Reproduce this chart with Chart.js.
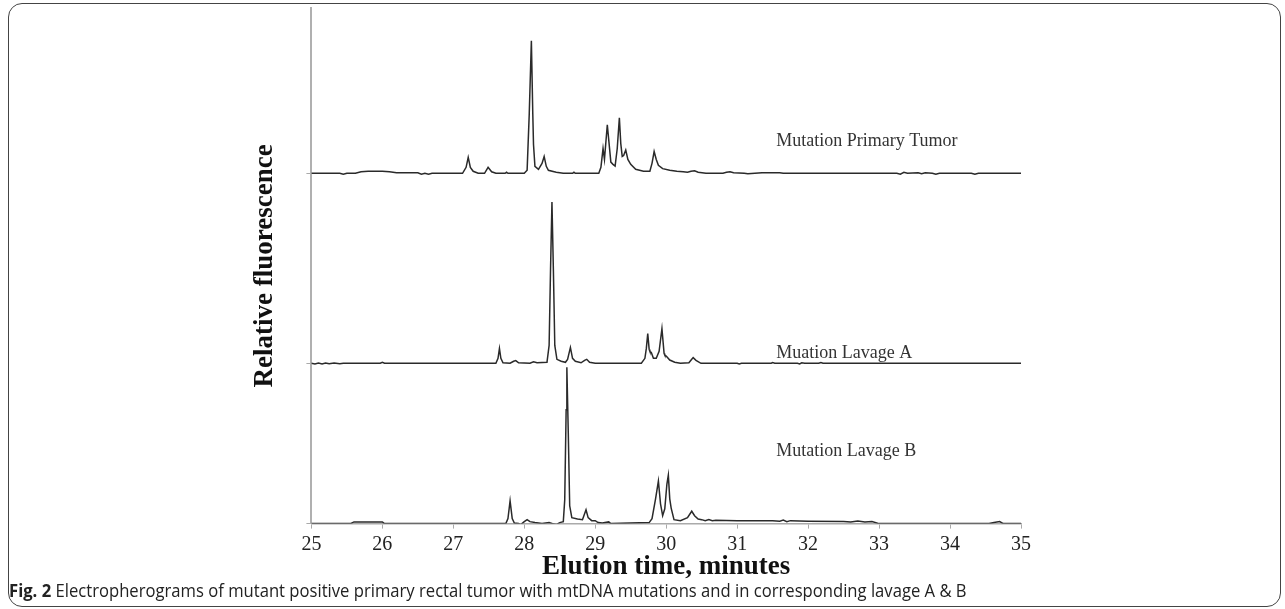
<!DOCTYPE html>
<html lang="en">
<head>
<meta charset="UTF-8">
<title>Electropherograms</title>
<script src="https://cdn.jsdelivr.net/npm/chart.js"></script>
<style>
  html, body { margin: 0; padding: 0; background: #fff; }
  #wrap { position: relative; width: 1285px; height: 609px; overflow: hidden; }
  #frame {
    position: absolute; left: 8px; top: 3px; width: 1271px; height: 602px;
    border: 1.5px solid #444; border-radius: 14px;
  }
  #chart { position: absolute; left: 0; top: 0; }
  #caption {
    position: absolute; left: 9px; top: 578px; white-space: nowrap;
    font-family: "Open Sans", sans-serif; font-size: 18px; color: #222;
    transform: scaleX(0.924); transform-origin: left center;
  }
  #caption b { font-weight: bold; }
</style>
</head>
<body>
<div id="wrap">
  <div id="frame"></div>
  <canvas id="chart" width="1285" height="609"></canvas>
  <div id="caption"><b>Fig. 2</b> Electropherograms of mutant positive primary rectal tumor with mtDNA mutations and in corresponding lavage A &amp; B</div>
</div>
<script>
// elution time (minutes) and peak height above each trace's baseline
const tumorTimes = [25.00, 25.40, 25.45, 25.50, 25.62, 25.70, 25.80, 26.00, 26.10, 26.20, 26.50, 26.55, 26.60, 26.65, 26.70,
  27.13, 27.18, 27.21, 27.24, 27.28, 27.35, 27.44, 27.49, 27.54, 27.60, 27.73, 27.75, 27.77, 28.00, 28.04, 28.07, 28.10,
  28.12, 28.13, 28.15, 28.20, 28.25, 28.28, 28.31, 28.34, 28.45, 28.55, 28.68, 28.70, 28.72, 29.05, 29.08, 29.11, 29.13,
  29.17, 29.22, 29.25, 29.28, 29.31, 29.34, 29.36, 29.38, 29.40, 29.43, 29.46, 29.50, 29.57, 29.68, 29.77, 29.80, 29.83,
  29.86, 29.89, 29.95, 30.05, 30.15, 30.24, 30.30, 30.35, 30.40, 30.45, 30.56, 30.80, 30.85, 30.90, 30.95, 31.10, 31.15,
  31.25, 31.35, 31.60, 31.65, 33.25, 33.30, 33.35, 33.40, 33.55, 33.60, 33.65, 33.75, 33.80, 33.85, 34.30, 34.35, 34.40, 35.00];
const tumorHeights = [0, 0, -1, 0, 0, 1.5, 2, 2, 1.5, 0.5, 0.5, -1, 0, -1, 0,
  0, 6, 16, 6, 2, 0, 0, 6, 1.5, 0, 0, 1, 0, 0, 3, 60, 134,
  60, 29, 7, 4, 10, 17, 7, 3, 1, 0, 0, 1, 0, 0, 6, 25, 14,
  49, 11.3, 9, 7.3, 25, 56, 30, 17, 18, 23.5, 14, 9, 4, 2, 2, 10, 22,
  14, 8, 4.7, 3, 2, 1.5, 1, 2, 2.5, 1, 0, 0, 1, 1.5, 0.5, 0, -0.5,
  0, 0.5, 0.5, 0, 0, -1, 1, 0, 0.5, -0.5, 0.5, 0, -1, 0, 0, -1, 0, 0];

const lavageATimes = [25.00, 25.05, 25.10, 25.15, 25.20, 25.25, 25.32, 25.40, 25.45, 25.97, 26.00, 26.03,
  27.60, 27.63, 27.65, 27.67, 27.70, 27.80, 27.85, 27.88, 27.92, 28.08, 28.13, 28.18, 28.32, 28.35, 28.37, 28.39,
  28.41, 28.43, 28.46, 28.52, 28.58, 28.61, 28.65, 28.68, 28.72, 28.80, 28.85, 28.88, 28.92, 29.00, 29.65, 29.70,
  29.72, 29.74, 29.76, 29.77, 29.79, 29.82, 29.86, 29.90, 29.94, 29.97, 29.98, 30.00, 30.05, 30.12, 30.20, 30.32,
  30.36, 30.38, 30.42, 30.49, 31.00, 31.03, 31.06, 31.48, 31.50, 31.53, 31.85, 31.88, 31.91, 31.95, 32.15, 32.18,
  32.21, 35.00];
const lavageAHeights = [0, -0.7, 0.3, -0.7, 0.3, -0.5, 0.3, -0.5, 0, 0, 1, 0,
  0, 5, 15, 5, 0.5, 0, 2, 2.7, 0.5, 0, 1.5, 0.5, 1, 18, 95, 163,
  95, 18, 4, 2, 1, 4, 16, 5, 2, 0.5, 3, 4, 1, 0, 0, 5,
  15, 30, 14, 12, 11, 5, 5, 12, 35, 10, 8.3, 7.3, 3.3, 1, 0, 0.5,
  4, 5.7, 3, 0, 0, -0.7, 0, 0, 0.7, 0, 0, -0.7, 0.5, 0, 0, 0.8,
  0, 0];

const lavageBTimes = [25.00, 25.55, 25.60, 26.00, 26.03, 27.74, 27.77, 27.80, 27.83, 27.86, 27.92, 27.95, 28.00,
  28.04, 28.08, 28.15, 28.25, 28.35, 28.40, 28.45, 28.50, 28.55, 28.57, 28.59, 28.60, 28.62, 28.64, 28.67, 28.75,
  28.82, 28.85, 28.87, 28.90, 28.95, 29.00, 29.04, 29.10, 29.19, 29.22, 29.76, 29.80, 29.85, 29.89, 29.92, 29.95,
  29.98, 30.01, 30.03, 30.05, 30.07, 30.11, 30.20, 30.30, 30.36, 30.40, 30.45, 30.50, 30.55, 30.60, 30.65, 30.70,
  31.00, 31.50, 31.60, 31.65, 31.70, 31.75, 32.00, 32.50, 32.60, 32.70, 32.80, 32.90, 33.00, 34.55, 34.62, 34.70,
  34.75, 35.00];
const lavageBHeights = [0, 0, 1.7, 1.7, 0, 0, 5, 23, 5, 0.5, 0, -1, 2,
  4, 2, 1, 0, 1, 0, -1, 1, 2, 24, 115, 158, 92, 18, 6, 4.7,
  4, 10, 14, 6, 3, 3, 1, 0.5, 1.7, 0, 1, 5, 25, 43, 20, 8,
  15, 40, 49, 25, 15.7, 4, 3, 6, 12.5, 8, 4.7, 4, 3, 4, 3, 3.5,
  3, 3, 2.5, 3.5, 2, 3, 2.5, 2, 1.5, 2.5, 1.5, 2, 0, 0, 1, 2,
  0, 0];

// vertical offset of each trace on the relative fluorescence axis
const traceOffsets = [354, 162, 0];
const traceNames = ['Mutation Primary Tumor', 'Muation Lavage A', 'Mutation Lavage B'];
const labelTimes = [31.55, 31.55, 31.55];
const labelLevels = [386, 172, 73];

const xMin = 25, xMax = 35;
const yMax = 521;

function toPoints(times, heights, offset) {
  return times.map((t, i) => ({ x: t, y: heights[i] + offset }));
}

const traces = [
  toPoints(tumorTimes, tumorHeights, traceOffsets[0]),
  toPoints(lavageATimes, lavageAHeights, traceOffsets[1]),
  toPoints(lavageBTimes, lavageBHeights, traceOffsets[2])
];

// trace names written next to each line
const traceLabels = {
  id: 'traceLabels',
  afterDatasetsDraw(chart) {
    const ctx = chart.ctx;
    const xs = chart.scales.x, ys = chart.scales.y;
    ctx.save();
    ctx.font = '18px "Liberation Serif", serif';
    ctx.fillStyle = '#333';
    ctx.textAlign = 'left';
    ctx.textBaseline = 'middle';
    traceNames.forEach((name, i) => {
      ctx.fillText(name, xs.getPixelForValue(labelTimes[i]), ys.getPixelForValue(labelLevels[i]));
    });
    ctx.restore();
  }
};

const ctx = document.getElementById('chart').getContext('2d');
new Chart(ctx, {
  type: 'line',
  data: {
    datasets: traces.map((pts, i) => ({
      label: traceNames[i],
      data: pts,
      borderColor: '#2a2a2a',
      borderWidth: 1.5,
      pointRadius: 0,
      tension: 0,
      fill: false
    }))
  },
  options: {
    responsive: false,
    animation: false,
    events: [],
    layout: { padding: { left: 249, right: 264, top: 8, bottom: 26 } },
    plugins: { legend: { display: false }, tooltip: { enabled: false } },
    scales: {
      x: {
        type: 'linear',
        min: xMin,
        max: xMax,
        ticks: {
          stepSize: 1,
          padding: 4,
          color: '#222',
          font: { family: '"Liberation Serif", serif', size: 20 }
        },
        grid: { drawOnChartArea: false, drawTicks: true, tickLength: 5, color: '#aaa' },
        border: { color: '#aaa', width: 1.5 },
        title: {
          display: true,
          text: 'Elution time, minutes',
          color: '#111',
          padding: { top: -10, bottom: 0 },
          font: { family: '"Liberation Serif", serif', size: 27, weight: 'bold' }
        }
      },
      y: {
        type: 'linear',
        min: 0,
        max: yMax,
        afterBuildTicks(scale) {
          scale.ticks = traceOffsets.map(v => ({ value: v }));
        },
        ticks: { display: false },
        grid: { drawOnChartArea: false, drawTicks: true, tickLength: 5, color: '#aaa' },
        border: { color: '#b0b0b0', width: 2 },
        title: {
          display: true,
          text: 'Relative fluorescence',
          color: '#111',
          padding: { top: 0, bottom: 25 },
          font: { family: '"Liberation Serif", serif', size: 27, weight: 'bold' }
        }
      }
    }
  },
  plugins: [traceLabels]
});
</script>
</body>
</html>
